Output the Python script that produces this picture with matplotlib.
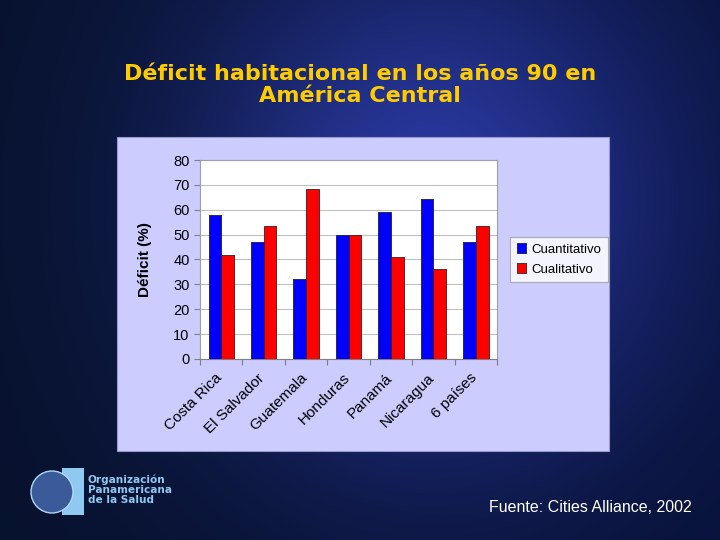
import numpy as np
from matplotlib import pyplot as plt
from matplotlib.patches import Rectangle, Circle
import matplotlib.transforms as mtransforms

# data
paises = ['Costa Rica', 'El Salvador', 'Guatemala', 'Honduras', 'Panamá', 'Nicaragua', '6 países']
cuantitativo = [58, 47, 32, 50, 59, 64.5, 47]
cualitativo = [42, 53.5, 68.5, 50, 41, 36, 53.5]
yticks = [0, 10, 20, 30, 40, 50, 60, 70, 80]

plt.rcParams['font.family'] = ['Liberation Sans', 'DejaVu Sans']

fig = plt.figure(figsize=(7.2, 5.4), dpi=100)

# slide background: dark navy with a lighter blue glow
bg = fig.add_axes([0, 0, 1, 1], zorder=-10)
yy, xx = np.mgrid[0:540, 0:720]
glow = np.exp(-(((xx - 430) / 240.0) ** 2 + ((yy - 200) / 260.0) ** 2))
left_dark = np.clip(xx / 720.0, 0, 1)
img = np.zeros((540, 720, 3))
img[..., 0] = 0.03 + 0.13 * glow
img[..., 1] = 0.07 + 0.15 * glow
img[..., 2] = 0.18 + 0.42 * glow + 0.04 * left_dark
bg.imshow(np.clip(img, 0, 1), aspect='auto', extent=[0, 720, 540, 0])
bg.set_xlim(0, 720)
bg.set_ylim(540, 0)
bg.axis('off')

# lavender chart panel
bg.add_patch(Rectangle((117, 137), 492, 314, facecolor='#CCCCFF', edgecolor='#9999CC', lw=0.8))

# title
fig.text(0.5, 0.843, 'Déficit habitacional en los años 90 en\nAmérica Central',
         ha='center', va='center', color='#FFCC00', fontsize=16, fontweight='bold',
         linespacing=1.15, family=['DejaVu Sans'])

# footer
fig.text(0.679, 0.06, 'Fuente: Cities Alliance, 2002', color='white', fontsize=11.5,
         ha='left', va='center')

# logo
bg.add_patch(Rectangle((62, 468), 22, 47, facecolor='#8FC8F0', edgecolor='none'))
bg.add_patch(Circle((52, 492), 21, facecolor='#3A5A9A', edgecolor='#B0D8F5', lw=1.0))
fig.text(0.122, 0.093, 'Organización\nPanamericana\nde la Salud', color='#8FC8F0',
         fontsize=7.6, fontweight='bold', ha='left', va='center', linespacing=1.0,
         family=['DejaVu Sans'])

# bar chart
ax = fig.add_axes([0.2778, 0.3352, 0.4125, 0.3685])
x = np.arange(len(paises))
w = 0.3
ax.bar(x - w / 2, cuantitativo, w, color='#0000FF', edgecolor='#1A1A40', lw=0.6,
       label='Cuantitativo', zorder=3)
ax.bar(x + w / 2, cualitativo, w, color='#FF0000', edgecolor='#401A1A', lw=0.6,
       label='Cualitativo', zorder=3)

ax.set_xlim(-0.5, len(paises) - 0.5)
ax.set_ylim(0, 80)
ax.set_yticks(yticks)
ax.yaxis.grid(True, color='#C0C0C0', lw=0.8, zorder=0)
ax.set_facecolor('white')
for s in ['top', 'right', 'left']:
    ax.spines[s].set_color('#A0A0A0')
ax.spines['bottom'].set_color('#808080')

ax.set_xticks(np.arange(len(paises) + 1) - 0.5, minor=False)
ax.set_xticklabels([])
ax.set_xticks(x, minor=True)
ax.set_xticklabels(paises, minor=True, rotation=45, ha='right', va='top',
                   rotation_mode='anchor', fontsize=11)
ax.tick_params(axis='x', which='minor', length=0, pad=5)
ax.tick_params(axis='x', which='major', length=4, color='#808080')
ax.tick_params(axis='y', length=4, color='#808080', labelsize=10.5)
ax.set_ylabel('Déficit (%)', fontsize=11, fontweight='bold', labelpad=15)

# nudge the slanted labels down-left like the original
offset = mtransforms.ScaledTranslation(-0.06, -0.05, fig.dpi_scale_trans)
for lbl in ax.get_xticklabels(minor=True):
    lbl.set_transform(lbl.get_transform() + offset)

leg = ax.legend(loc='center left', bbox_to_anchor=(1.044, 0.5), borderaxespad=0,
                frameon=True, fancybox=False, fontsize=9.5, handlelength=0.7,
                handleheight=0.7, handletextpad=0.4, borderpad=0.5, labelspacing=0.6)
leg.get_frame().set_edgecolor('#A0A0A0')
leg.get_frame().set_linewidth(0.8)

fig.savefig('out.png', dpi=100)
